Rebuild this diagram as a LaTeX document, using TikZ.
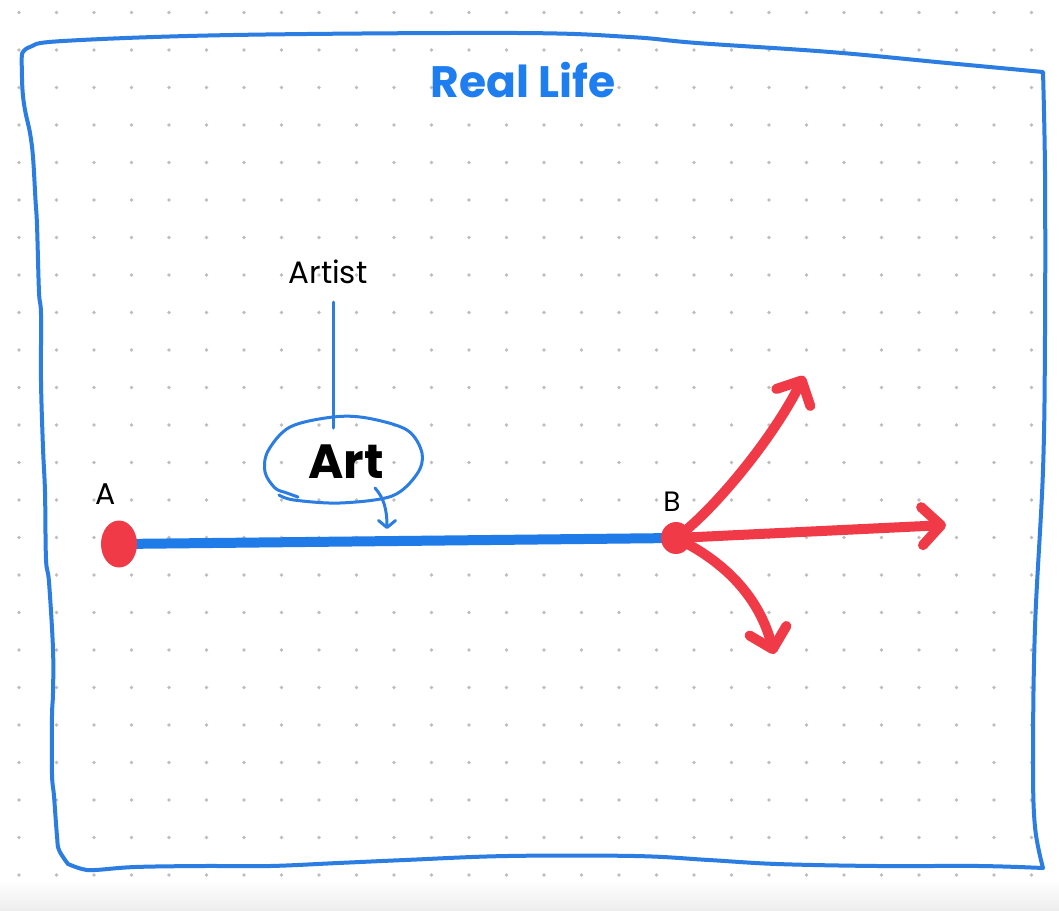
\documentclass[tikz,border=0pt]{standalone}
\usepackage{fontspec}
\setmainfont{Poppins}
\usetikzlibrary{arrows.meta,shapes.geometric}
\definecolor{frameblue}{RGB}{43,125,225}
\definecolor{titleblue}{RGB}{30,126,240}
\definecolor{lineblue}{RGB}{30,123,232}
\definecolor{markred}{RGB}{240,58,72}
\definecolor{dotgray}{RGB}{190,190,190}
\pgfdeclarelayer{bg}
\pgfdeclarelayer{mid}
\pgfsetlayers{bg,mid,main}
\tikzset{
  frame/.style={draw=frameblue, line width=4pt, line cap=round, line join=round},
  thinblue/.style={draw=frameblue, line width=3pt, line cap=round, line join=round},
  mainline/.style={draw=lineblue, line width=10pt},
  reddot/.style={fill=markred, draw=none, inner sep=0pt},
  redarrow/.style={draw=markred, line width=10pt, line cap=round,
    -{Straight Barb[length=19pt,width=38pt,round]}},
  hand/.style={text=black, inner sep=0pt},
}
\begin{document}
\begin{tikzpicture}[x=1pt,y=-1pt]
\useasboundingbox (0,0) rectangle (1059,910);
\begin{pgfonlayer}{bg}
\fill[white] (0,0) rectangle (1059,910);
\shade[top color=white,bottom color=black!7] (0,880) rectangle (1059,910);
\foreach \i in {0,...,27}{
  \foreach \j in {0,...,23}{
    \fill[dotgray] ({19+37.5*\i},{12.5+37.5*\j}) circle[radius=1.9pt];
  }
}
\end{pgfonlayer}

% frame
\draw[frame]
  plot[smooth,tension=0.6] coordinates {(22,54) (30,47) (63,41) (233,35) (517,33) (630,37) (697,43) (830,52) (947,63) (1043,72)}
  -- plot[smooth,tension=0.6] coordinates {(1043,72) (1045,173) (1045,333) (1043,470) (1035,627) (1033,760) (1035,827) (1043,868)}
  -- plot[smooth,tension=0.6] coordinates {(1043,868) (980,866) (878,866) (777,864) (709,860) (635,856) (507,856) (405,860) (338,863) (270,866) (203,866) (135,867) (95,870) (82,869) (68,864)}
  -- plot[smooth,tension=0.6] coordinates {(68,864) (59,850) (57,836) (54,796) (52,774) (52,716) (53,693) (53,649) (49,582) (46,559) (45,492) (43,448) (41,381) (41,314) (39,292) (37,225) (35.5,200) (33,157) (30,133) (25,110) (22.5,90) (21.7,62) (22,54)};

% title
\node[hand, text=titleblue, font=\bfseries\fontsize{44}{50}\selectfont] (title) at (523,80) {Real Life};

% Artist and Art
\node[hand, font=\fontsize{31}{36}\selectfont] (artist) at (328,272) {Artist};
\node[hand, font=\bfseries\fontsize{48}{56}\selectfont] (art) at (346,462) {Art};
\coordinate (loopTop) at (333,428);
\coordinate (artOut) at (375,488);
\coordinate (artTip) at (387,529);
\draw[thinblue, shorten <=18pt] (artist.south -| loopTop) -- (loopTop);
\draw[thinblue] plot[smooth,tension=0.55] coordinates {(298,497) (287,493) (275,488) (265,472) (268,451) (290,427) (333,417) (367,418) (407,430) (422,453) (417,474) (392,496) (340,503) (294,500) (279,495)};
\draw[thinblue, -{Straight Barb[length=7pt,width=17pt,round]}] (artOut) .. controls (384,498) and (387,510) .. (artTip);

% A and B
\node[reddot, ellipse, minimum width=36pt, minimum height=47pt] (A) at (119,544) {};
\node[hand, font=\fontsize{30}{36}\selectfont] (labA) at (106,494) {A};
\node[reddot, ellipse, minimum width=30pt, minimum height=32pt] (B) at (676,538) {};
\node[hand, font=\fontsize{28}{34}\selectfont] (labB) at (672,502) {B};

\begin{pgfonlayer}{mid}
\draw[mainline] (A.center) -- (B.center);
\end{pgfonlayer}

% red arrows
\coordinate (upTip) at (804,376);
\coordinate (rightTip) at (946,525);
\coordinate (downTip) at (774,654);
\draw[redarrow] (B.center) .. controls (712,512) and (772,440) .. (upTip);
\draw[redarrow] (B.center) -- (rightTip);
\draw[redarrow] (B.center) .. controls (728,563) and (760,600) .. (downTip);
\end{tikzpicture}
\end{document}
